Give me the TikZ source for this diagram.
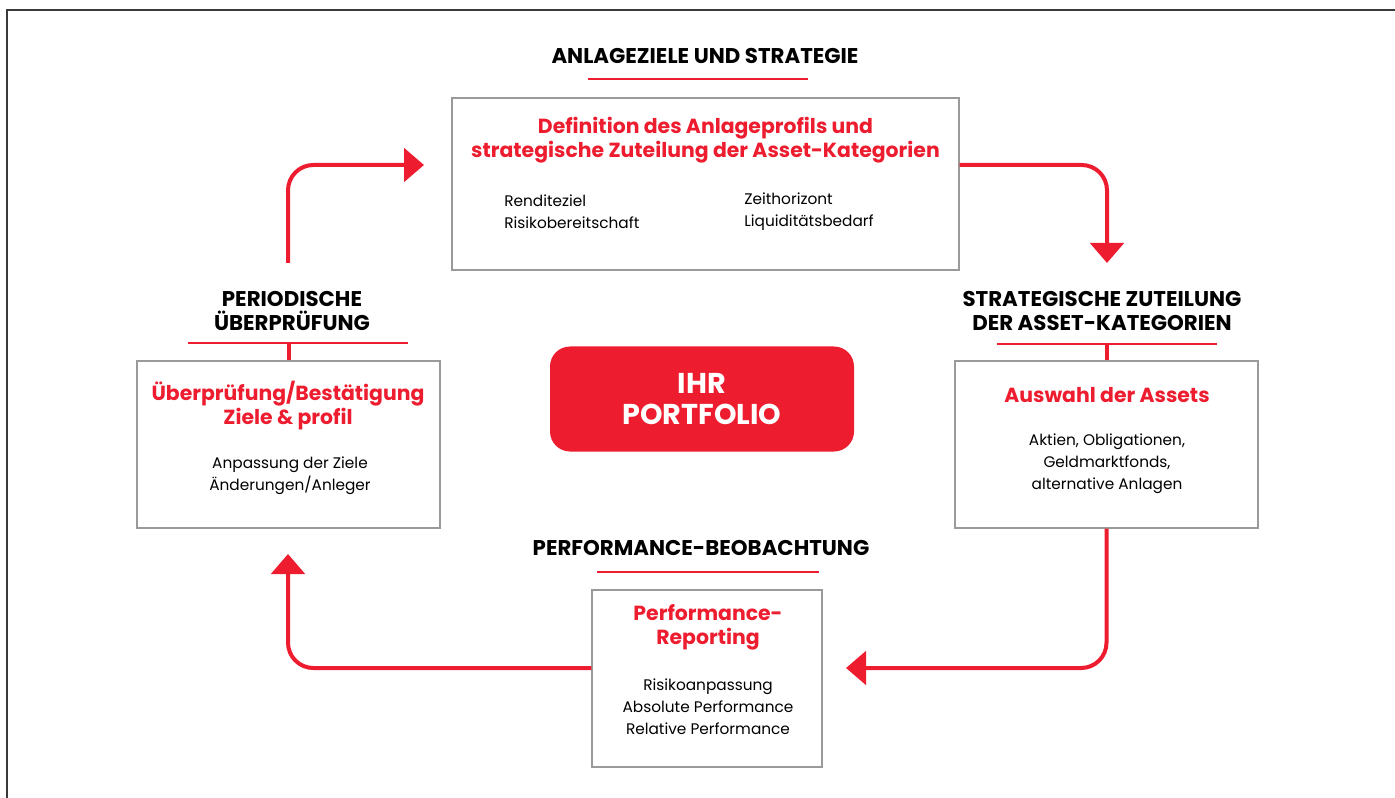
\documentclass[tikz,border=0pt]{standalone}
\usepackage{fontspec}
\setmainfont{Poppins}
\usetikzlibrary{arrows.meta}
\definecolor{brandred}{HTML}{ED1C2E}
\definecolor{boxgray}{HTML}{9A9A9A}
\definecolor{framegray}{HTML}{3A3A3A}
\tikzset{
  box/.style={draw=boxgray, line width=1.1pt, inner sep=0pt},
  heading/.style={font=\bfseries\fontsize{16}{18}\selectfont, align=center},
  title/.style={text=brandred, font=\bfseries\fontsize{15.3}{18}\selectfont, align=center},
  body/.style={font=\fontsize{11.5}{16.5}\selectfont, align=center},
  rule/.style={draw=brandred, line width=1.6pt},
  stem/.style={draw=brandred, line width=3pt},
  flow/.style={draw=brandred, line width=3pt, rounded corners=19pt, -{Triangle[width=25pt,length=15pt]}},
}
\begin{document}
\begin{tikzpicture}[x=0.75pt, y=-0.75pt]
  \useasboundingbox (0,0) rectangle (1395,798);
  \draw[draw=framegray, line width=1.5pt] (7,798) -- (7,10) -- (1395,10);

  % boxes
  \node[box, minimum width=380.25pt, minimum height=129pt] (topbox) at (705.5,184) {};
  \node[box, minimum width=227.25pt, minimum height=125.25pt] (lbox) at (288.5,444.5) {};
  \node[box, minimum width=227.25pt, minimum height=125.25pt] (rbox) at (1106.5,444.5) {};
  \node[box, minimum width=172.5pt, minimum height=132.75pt] (pbox) at (707,678.5) {};
  \node[fill=brandred, rounded corners=15pt, minimum width=228pt, minimum height=78.75pt,
        text=white, font=\bfseries\fontsize{21.5}{23}\selectfont, align=center] (portfolio) at (702,399) {IHR\\PORTFOLIO};

  % headings
  \node[heading] (toph) at (705,56) {ANLAGEZIELE UND STRATEGIE};
  \node[heading] (lefth) at (292,311) {PERIODISCHE\\ÜBERPRÜFUNG};
  \node[heading] (righth) at (1102,311) {STRATEGISCHE ZUTEILUNG\\DER ASSET-KATEGORIEN};
  \node[heading] (both) at (701,548) {PERFORMANCE-BEOBACHTUNG};

  \coordinate (toprule) at (698,79);
  \coordinate (leftrule) at (298,343);
  \coordinate (rightrule) at (1107,344);
  \coordinate (botrule) at (708,572);
  \draw[rule] ([xshift=-82.5pt]toprule) -- ([xshift=82.5pt]toprule);
  \draw[rule] ([xshift=-82.5pt]leftrule) -- ([xshift=82.5pt]leftrule);
  \draw[rule] ([xshift=-82.5pt]rightrule) -- ([xshift=82.5pt]rightrule);
  \draw[rule] ([xshift=-83pt]botrule) -- ([xshift=83pt]botrule);
  \draw[stem] (lbox.north |- leftrule) -- (lbox.north);
  \draw[stem] (rbox.north |- rightrule) -- (rbox.north);

  % box texts
  \node[title] (toptitle) at (705.5,140) {Definition des Anlageprofils und\\strategische Zuteilung der Asset-Kategorien};
  \node[body, anchor=west, align=left, inner xsep=0pt] (topleft) at (504,212) {Renditeziel\\Risikobereitschaft};
  \node[body, anchor=west, align=left, inner xsep=0pt] (topright) at (744,212) {Zeithorizont\\Liquiditätsbedarf};
  \node[title] (ltitle) at (288,406) {Überprüfung/Bestätigung\\Ziele \& profil};
  \node[body] (ltext) at (290,476) {Anpassung der Ziele\\Änderungen/Anleger};
  \node[title] (rtitle) at (1107,395) {Auswahl der Assets};
  \node[body] (rtext) at (1107,464) {Aktien, Obligationen,\\Geldmarktfonds,\\alternative Anlagen};
  \node[title] (ptitle) at (708,627) {Performance-\\Reporting};
  \node[body] (ptext) at (708,707) {Risikoanpassung\\Absolute Performance\\Relative Performance};

  % cycle
  \coordinate (rowtop) at (0,165);
  \coordinate (tlfrom) at (288,263);
  \coordinate (tlto) at (424,165);
  \coordinate (trto) at (1107,263);
  \coordinate (brto) at (846,668);
  \coordinate (blto) at (288,554);
  \draw[flow] (tlfrom) |- (tlto);
  \draw[flow] (topbox.east |- rowtop) -| (trto);
  \draw[flow] (rbox.south) |- (brto);
  \draw[flow] (pbox.west |- brto) -| (blto);
\end{tikzpicture}
\end{document}
